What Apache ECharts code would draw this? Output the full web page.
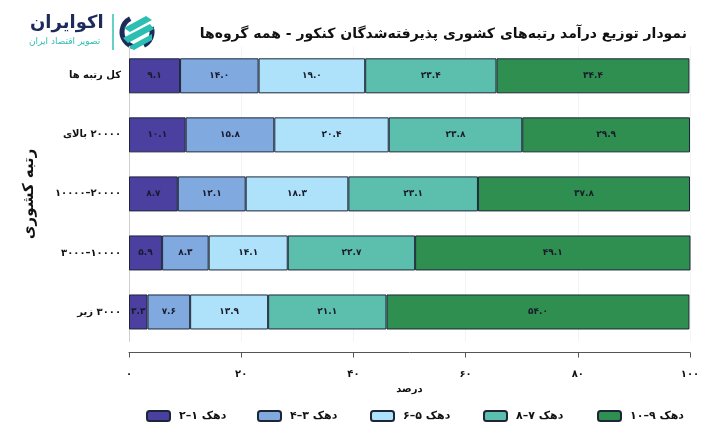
<!DOCTYPE html>
<html>
<head>
<meta charset="utf-8">
<script src="https://cdn.jsdelivr.net/npm/echarts@6/dist/echarts.min.js"></script>
<style>html,body{margin:0;padding:0;background:#fff}#c{width:725px;height:443px}</style>
</head>
<body>
<div id="c"></div>
<script>
const titleText = 'نمودار توزیع درآمد رتبه‌های کشوری پذیرفته‌شدگان کنکور - همه گروه‌ها';
const categories = ['کل رتبه ها', '\u2067بالای\u2069 \u2066۲۰۰۰۰\u2069', '۱۰۰۰۰–۲۰۰۰۰', '۳۰۰۰–۱۰۰۰۰', '\u2067زیر\u2069 \u2066۳۰۰۰\u2069'];
const seriesNames = ['دهک ۱–۲', 'دهک ۳–۴', 'دهک ۵–۶', 'دهک ۷–۸', 'دهک ۹–۱۰'];
const d12 = [9.1, 10.1, 8.7, 5.9, 3.3];
const d34 = [14.0, 15.8, 12.1, 8.3, 7.6];
const d56 = [19.0, 20.4, 18.3, 14.1, 13.9];
const d78 = [23.4, 23.8, 23.1, 22.7, 21.1];
const d910 = [34.4, 29.9, 37.8, 49.1, 54.0];
const xTicks = [0, 20, 40, 60, 80, 100];
const xName = 'درصد';
const yName = 'رتبه کشوری';
const colors = ['#4b3f9f', '#80a9e0', '#aee2fa', '#5cbfae', '#2f8f50'];

const FONT = 'DejaVu Sans';
const fa = s => String(s).replace(/[0-9]/g, d => '۰۱۲۳۴۵۶۷۸۹'[d]);
const allData = [d12, d34, d56, d78, d910];

const chart = echarts.init(document.getElementById('c'));
const legendX = [141, 252, 365, 478, 592];

const option = {
  backgroundColor: '#fff',
  animation: false,
  textStyle: { fontFamily: FONT },
  title: {
    text: titleText,
    right: 33, top: 22,
    textStyle: { fontFamily: FONT, fontSize: 14, fontWeight: 'bold', color: '#111' }
  },
  grid: { left: 129, right: 35, top: 46.3, bottom: 101.5 },
  xAxis: {
    type: 'value', min: xTicks[0], max: xTicks[xTicks.length - 1], interval: 20,
    offset: 11,
    name: xName, nameLocation: 'middle', nameGap: 27,
    nameTextStyle: { fontFamily: FONT, fontSize: 10, fontWeight: 'bold', color: '#111' },
    axisLine: { show: true, lineStyle: { color: '#555', width: 1 } },
    axisTick: { show: true, length: 5, lineStyle: { color: '#555' } },
    axisLabel: { fontFamily: FONT, fontSize: 10, fontWeight: 'bold', color: '#111', margin: 17,
      formatter: v => fa(v) },
    splitLine: { show: true, lineStyle: { color: '#f3f3f3', width: 1 } }
  },
  yAxis: {
    type: 'category', data: categories, inverse: true,
    name: yName, nameLocation: 'middle', nameGap: 92, nameRotate: 90,
    nameTextStyle: { fontFamily: FONT, fontSize: 15, fontWeight: 'bold', color: '#111' },
    axisLine: { show: true, lineStyle: { color: '#cfcfcf' } },
    axisTick: { show: false },
    axisLabel: { fontFamily: FONT, fontSize: 10, fontWeight: 'bold', color: '#111', margin: 8 }
  },
  legend: seriesNames.map((n, i) => ({
    data: [n], left: legendX[i], top: 405,
    itemWidth: 23, itemHeight: 10, itemGap: 0,
    textStyle: { fontFamily: FONT, fontSize: 11, fontWeight: 'bold', color: '#111', padding: [0, 0, 0, 4] }
  })),
  series: seriesNames.map((n, i) => ({
    name: n, type: 'bar', stack: 'all', data: allData[i],
    barWidth: 35,
    itemStyle: { color: colors[i], borderColor: '#1c2638', borderWidth: 1 },
    label: { show: true, position: 'inside', fontFamily: FONT, fontSize: 9, fontWeight: 'bold', color: '#1a1a2a',
      formatter: p => fa(p.value.toFixed(1)) }
  })),
  graphic: [
    { type: 'text', left: 30, top: 14, style: { text: 'اکوایران', font: 'bold 18px "DejaVu Sans"', fill: '#1d2b5b' } },
    { type: 'text', left: 29, top: 37, style: { text: 'تصویر اقتصاد ایران', font: '9px "DejaVu Sans"', fill: '#2bbfb3' } },
    { type: 'line', shape: { x1: 113, y1: 14, x2: 113, y2: 50 }, style: { stroke: '#30c0b5', lineWidth: 1.5 } },
    { type: 'arc', shape: { cx: 137, cy: 32, r: 15, startAngle: Math.PI * 0.55, endAngle: Math.PI * 1.35 }, style: { stroke: '#1d2b5b', lineWidth: 5, fill: null } },
    { type: 'arc', shape: { cx: 137, cy: 32, r: 15, startAngle: Math.PI * 1.9, endAngle: Math.PI * 0.35 }, style: { stroke: '#1d2b5b', lineWidth: 5, fill: null } },
    { type: 'polygon', shape: { points: [[124, 28], [146, 16], [152, 20], [130, 32]] }, style: { fill: '#2bbfb3' } },
    { type: 'polygon', shape: { points: [[123, 38], [150, 24], [154, 29], [128, 43]] }, style: { fill: '#2bbfb3' } },
    { type: 'polygon', shape: { points: [[128, 47], [152, 34], [152, 40], [134, 50]] }, style: { fill: '#2bbfb3' } }
  ]
};
chart.setOption(option);
</script>
</body>
</html>
